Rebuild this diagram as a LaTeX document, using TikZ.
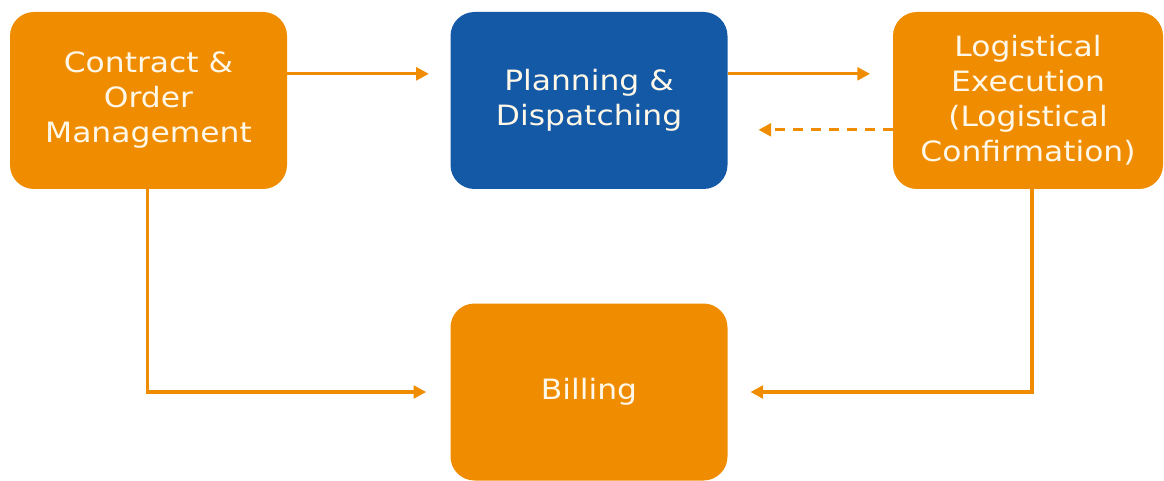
\documentclass[tikz,border=0pt]{standalone}
\usepackage{fontspec}
\setmainfont{DejaVu Sans}[FakeStretch=1.12]
\usepackage{tikz}
\usetikzlibrary{arrows.meta}

\definecolor{procorange}{RGB}{240,140,0}
\definecolor{procblue}{RGB}{19,89,166}
\definecolor{proctext}{RGB}{255,248,232}

\tikzset{
  box/.style={rounded corners=18pt, minimum width=207.75pt, minimum height=132.75pt,
    inner sep=0pt, align=center, text=proctext,
    font=\fontsize{21}{26.25}\selectfont},
  orangebox/.style={box, fill=procorange},
  bluebox/.style={box, fill=procblue},
  flow/.style={draw=procorange, line width=2.4pt,
    -{Triangle[length=9.5pt,width=9.5pt]}},
}

\begin{document}
\begin{tikzpicture}[x=0.75pt, y=-0.75pt]
\useasboundingbox (0,0) rectangle (1164,481);

% process boxes
\node[orangebox] (contract) at (148.5,100.5) {Contract \&\\Order\\Management};
\node[bluebox] (planning) at (589,100.5) {Planning \&\\Dispatching};
\node[orangebox, minimum width=202.5pt] (logistics) at (1028,100.5)
  {Logistical\\Execution\\(Logistical\\Confirmation)};
\node[orangebox] (billing) at (589,392) {Billing};

% flows
\draw[flow, shorten >=16pt] ([yshift=20pt]contract.east) -- ([yshift=20pt]planning.west);
\draw[flow, shorten >=17pt] ([yshift=20pt]planning.east) -- ([yshift=20pt]logistics.west);
\draw[flow, dash pattern=on 7.5pt off 6pt, shorten >=23pt]
  ([yshift=-22pt]logistics.west) -- ([yshift=-22pt]planning.east);
\draw[flow, shorten >=18pt] ([xshift=-1pt]contract.south) |- (billing.west);
\draw[flow, shorten >=17pt] ([xshift=3pt]logistics.south) |- (billing.east);
\end{tikzpicture}
\end{document}
